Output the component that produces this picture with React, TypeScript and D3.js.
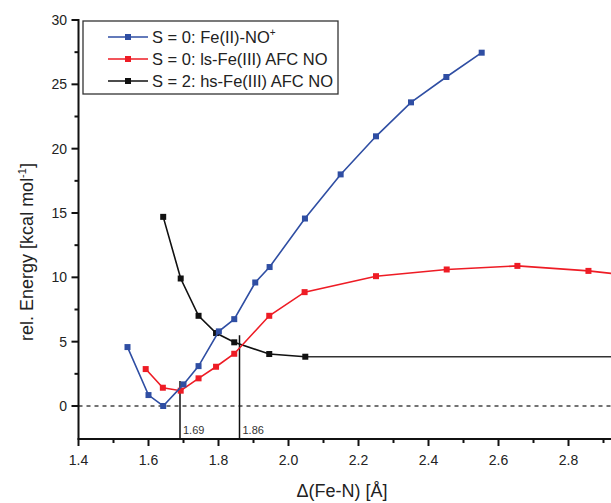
import React, { useEffect, useRef } from "react";
import * as d3 from "d3";

// S = 0: Fe(II)-NO+
const blueX = [1.54, 1.6, 1.642, 1.7, 1.743, 1.801, 1.845, 1.905, 1.946, 2.047, 2.149, 2.25, 2.35, 2.451, 2.552];
const blueY = [4.58, 0.85, 0.0, 1.68, 3.1, 5.8, 6.75, 9.6, 10.8, 14.57, 18.0, 20.96, 23.6, 25.57, 27.46];

// S = 0: ls-Fe(III) AFC NO
const redX = [1.592, 1.641, 1.692, 1.743, 1.793, 1.845, 1.945, 2.046, 2.25, 2.452, 2.654, 2.857, 3.06];
const redY = [2.87, 1.42, 1.19, 2.15, 3.05, 4.06, 7.01, 8.85, 10.09, 10.61, 10.89, 10.5, 9.9];

// S = 2: hs-Fe(III) AFC NO
const blackX = [1.642, 1.692, 1.743, 1.793, 1.845, 1.945, 2.048];
const blackY = [14.7, 9.91, 7.01, 5.67, 4.95, 4.04, 3.83];
const blackPlateau = 3.83;

const crossings = [1.69, 1.86];
const crossingTops = [1.94, 5.5];

const xMajor = [1.4, 1.6, 1.8, 2.0, 2.2, 2.4, 2.6, 2.8];
const xMinor = [1.5, 1.7, 1.9, 2.1, 2.3, 2.5, 2.7, 2.9];
const yMajor = [0, 5, 10, 15, 20, 25, 30];
const yMinor = [2.5, 7.5, 12.5, 17.5, 22.5, 27.5];

const BLUE = "#2f4ea3";
const RED = "#ee1c25";
const BLACK = "#111111";

export default function App() {
  const ref = useRef<SVGSVGElement>(null);

  useEffect(() => {
    const width = 611;
    const height = 503;
    const axisY = 439;
    const axisX = 78.5;

    const svg = d3.select(ref.current);
    svg.selectAll("*").remove();

    const x = d3.scaleLinear().domain([1.4, 2.8]).range([78.5, 568.5]);
    const y = d3.scaleLinear().domain([0, 30]).range([406, 20]);

    const font = "Liberation Sans, Arial, sans-serif";

    svg.append("defs").append("clipPath").attr("id", "plot")
      .append("rect").attr("x", axisX).attr("y", 0).attr("width", width - axisX).attr("height", axisY);

    // zero line
    svg.append("line")
      .attr("x1", axisX).attr("x2", width).attr("y1", y(0)).attr("y2", y(0))
      .attr("stroke", "#444").attr("stroke-width", 1.3).attr("stroke-dasharray", "4,4");

    const plot = svg.append("g").attr("clip-path", "url(#plot)");

    // plateau of hs curve
    plot.append("line")
      .attr("x1", x(blackX[blackX.length - 1])).attr("x2", width)
      .attr("y1", y(blackPlateau)).attr("y2", y(blackPlateau))
      .attr("stroke", "#333").attr("stroke-width", 1.5);

    // crossing markers
    crossings.forEach((c, i) => {
      plot.append("line")
        .attr("x1", x(c)).attr("x2", x(c)).attr("y1", axisY).attr("y2", y(crossingTops[i]))
        .attr("stroke", BLACK).attr("stroke-width", 1.5);
      svg.append("text")
        .attr("x", x(c) + 3).attr("y", 434)
        .attr("font-family", font).attr("font-size", 11).attr("fill", "#333")
        .text(c.toFixed(2));
    });

    const series = [
      { xs: blackX, ys: blackY, color: BLACK },
      { xs: redX, ys: redY, color: RED },
      { xs: blueX, ys: blueY, color: BLUE },
    ];
    const line = d3.line<[number, number]>().x(d => x(d[0])).y(d => y(d[1]));
    series.forEach(s => {
      const pts: [number, number][] = s.xs.map((v, i) => [v, s.ys[i]]);
      plot.append("path").attr("d", line(pts)).attr("fill", "none")
        .attr("stroke", s.color).attr("stroke-width", 1.6);
      plot.selectAll(null).data(pts).join("rect")
        .attr("x", d => x(d[0]) - 3).attr("y", d => y(d[1]) - 3)
        .attr("width", 6).attr("height", 6).attr("fill", s.color);
    });

    // axes
    const xAxis = svg.append("g").attr("transform", `translate(0, ${axisY})`);
    xAxis.append("line").attr("x1", axisX - 1).attr("x2", width).attr("stroke", BLACK).attr("stroke-width", 2);
    xAxis.selectAll(".major").data(xMajor).join("line").attr("class", "major")
      .attr("x1", d => x(d)).attr("x2", d => x(d)).attr("y1", 0).attr("y2", 7)
      .attr("stroke", BLACK).attr("stroke-width", 2);
    xAxis.selectAll(".minor").data(xMinor).join("line").attr("class", "minor")
      .attr("x1", d => x(d)).attr("x2", d => x(d)).attr("y1", 0).attr("y2", 4)
      .attr("stroke", BLACK).attr("stroke-width", 2);
    xAxis.selectAll("text").data(xMajor).join("text")
      .attr("x", d => x(d)).attr("y", 26).attr("text-anchor", "middle")
      .attr("font-family", font).attr("font-size", 14).attr("fill", "#222")
      .text(d => d.toFixed(1));

    const yAxis = svg.append("g");
    yAxis.append("line").attr("x1", axisX).attr("x2", axisX).attr("y1", y(30) - 1).attr("y2", axisY)
      .attr("stroke", BLACK).attr("stroke-width", 2);
    yAxis.selectAll(".major").data(yMajor).join("line").attr("class", "major")
      .attr("x1", axisX - 7).attr("x2", axisX).attr("y1", d => y(d)).attr("y2", d => y(d))
      .attr("stroke", BLACK).attr("stroke-width", 2);
    yAxis.selectAll(".minor").data(yMinor).join("line").attr("class", "minor")
      .attr("x1", axisX - 4).attr("x2", axisX).attr("y1", d => y(d)).attr("y2", d => y(d))
      .attr("stroke", BLACK).attr("stroke-width", 2);
    yAxis.selectAll("text").data(yMajor).join("text")
      .attr("x", 67).attr("y", d => y(d) + 5).attr("text-anchor", "end")
      .attr("font-family", font).attr("font-size", 14).attr("fill", "#222")
      .text(d => String(d));

    // axis titles
    svg.append("text")
      .attr("x", 342).attr("y", 497).attr("text-anchor", "middle")
      .attr("font-family", font).attr("font-size", 18).attr("fill", "#222")
      .text("\u0394(Fe-N) [\u00C5]");

    const yt = svg.append("text")
      .attr("transform", "translate(33, 252) rotate(-90)").attr("text-anchor", "middle")
      .attr("font-family", font).attr("font-size", 18).attr("fill", "#222");
    yt.append("tspan").text("rel. Energy [kcal mol");
    yt.append("tspan").attr("dy", -7).attr("font-size", 11).text("-1");
    yt.append("tspan").attr("dy", 7).text("]");

    // legend
    const lg = svg.append("g");
    lg.append("rect").attr("x", 83).attr("y", 21).attr("width", 255).attr("height", 73)
      .attr("fill", "white").attr("stroke", "#333").attr("stroke-width", 1.3);
    const labels = [
      { color: BLUE, main: "S = 0: Fe(II)-NO", sup: "+" },
      { color: RED, main: "S = 0: ls-Fe(III) AFC NO", sup: "" },
      { color: BLACK, main: "S = 2: hs-Fe(III) AFC NO", sup: "" },
    ];
    labels.forEach((l, i) => {
      const cy = 37 + i * 22;
      lg.append("line").attr("x1", 108).attr("x2", 148).attr("y1", cy).attr("y2", cy)
        .attr("stroke", l.color).attr("stroke-width", 1.6);
      lg.append("rect").attr("x", 125).attr("y", cy - 3).attr("width", 6).attr("height", 6).attr("fill", l.color);
      const t = lg.append("text").attr("x", 152).attr("y", cy + 6)
        .attr("font-family", font).attr("font-size", 16.5).attr("fill", "#222");
      t.append("tspan").text(l.main);
      if (l.sup) t.append("tspan").attr("dy", -7).attr("font-size", 10).text(l.sup);
    });
  }, []);

  return (
    <svg ref={ref} width={611} height={503}
      style={{ position: "absolute", left: 0, top: 0, background: "white" }} />
  );
}
